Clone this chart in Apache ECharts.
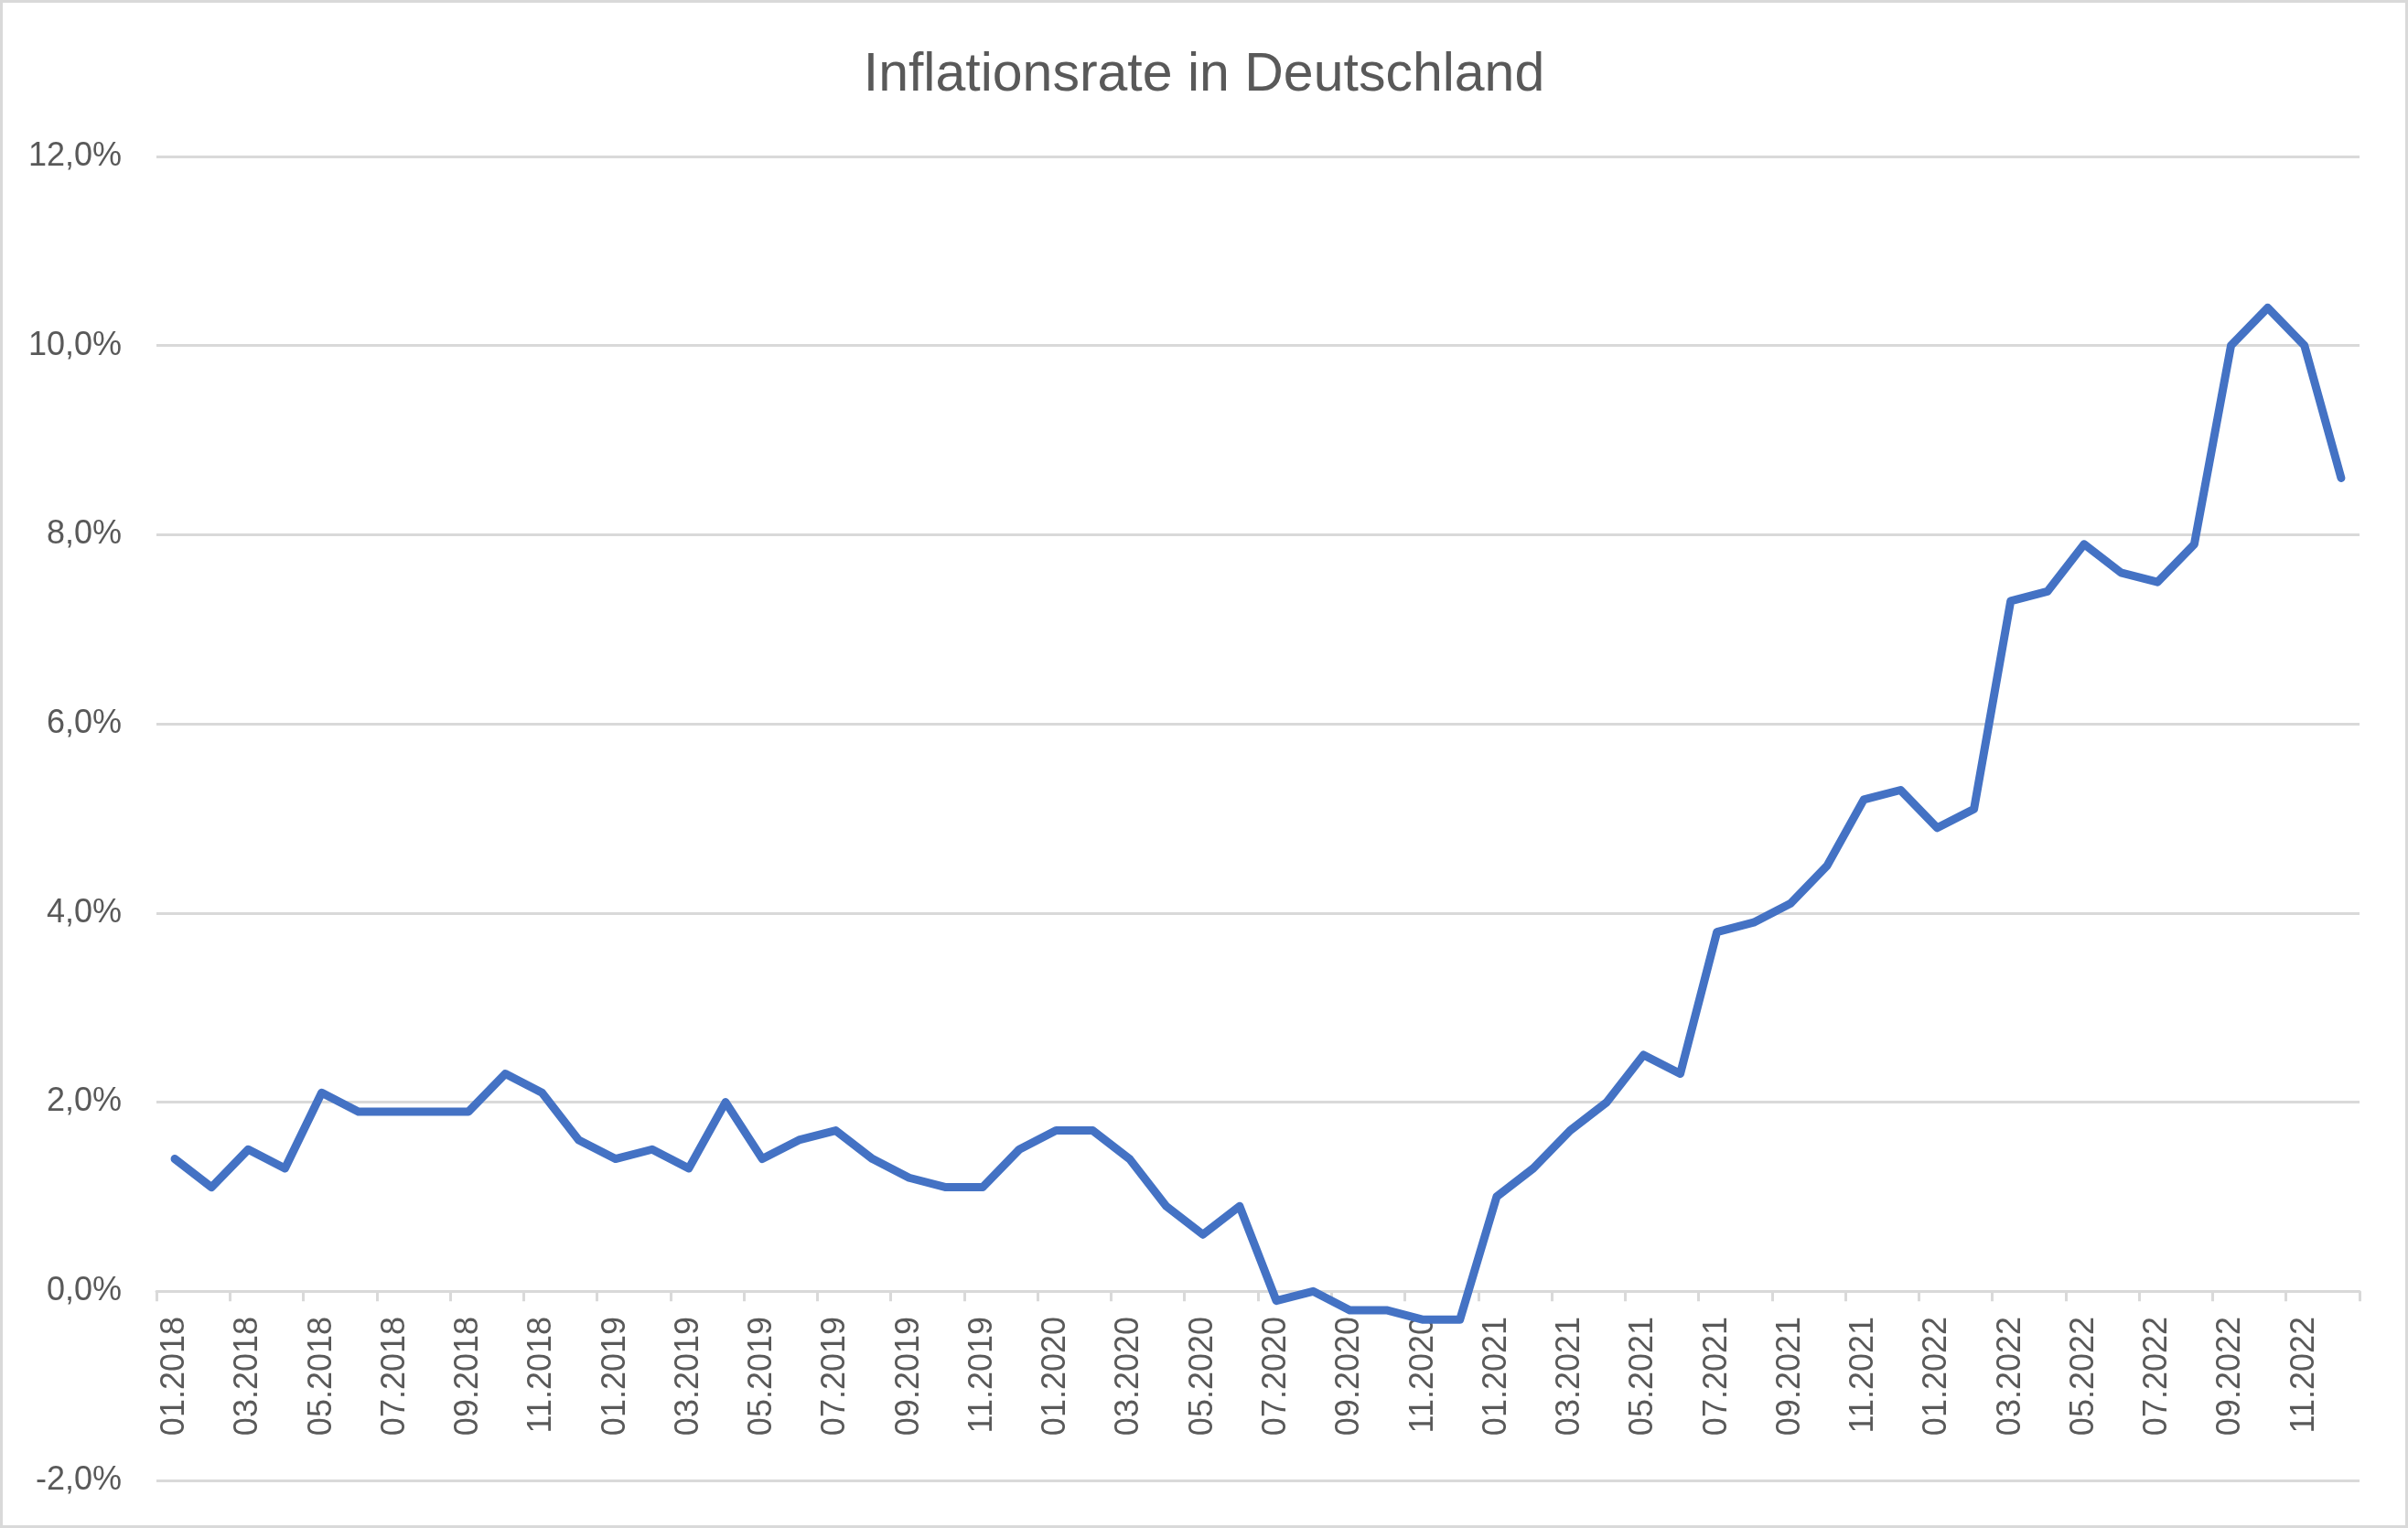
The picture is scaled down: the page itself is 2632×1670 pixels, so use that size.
<!DOCTYPE html>
<html>
<head>
<meta charset="utf-8">
<script src="https://cdn.jsdelivr.net/npm/echarts@6/dist/echarts.min.js"></script>
<style>
html,body{margin:0;padding:0;background:#fff;}
#frame{width:2632px;height:1670px;box-sizing:border-box;border:3px solid #d9d9d9;position:relative;}
#chart{position:absolute;left:-3px;top:-3px;width:2632px;height:1670px;}
</style>
</head>
<body>
<div id="frame"><div id="chart"></div></div>
<script>
const months = [
  "01.2018","02.2018","03.2018","04.2018","05.2018","06.2018","07.2018","08.2018","09.2018","10.2018","11.2018","12.2018",
  "01.2019","02.2019","03.2019","04.2019","05.2019","06.2019","07.2019","08.2019","09.2019","10.2019","11.2019","12.2019",
  "01.2020","02.2020","03.2020","04.2020","05.2020","06.2020","07.2020","08.2020","09.2020","10.2020","11.2020","12.2020",
  "01.2021","02.2021","03.2021","04.2021","05.2021","06.2021","07.2021","08.2021","09.2021","10.2021","11.2021","12.2021",
  "01.2022","02.2022","03.2022","04.2022","05.2022","06.2022","07.2022","08.2022","09.2022","10.2022","11.2022","12.2022"
];
const rate2018 = [1.4, 1.1, 1.5, 1.3, 2.1, 1.9, 1.9, 1.9, 1.9, 2.3, 2.1, 1.6];
const rate2019 = [1.4, 1.5, 1.3, 2.0, 1.4, 1.6, 1.7, 1.4, 1.2, 1.1, 1.1, 1.5];
const rate2020 = [1.7, 1.7, 1.4, 0.9, 0.6, 0.9, -0.1, 0.0, -0.2, -0.2, -0.3, -0.3];
const rate2021 = [1.0, 1.3, 1.7, 2.0, 2.5, 2.3, 3.8, 3.9, 4.1, 4.5, 5.2, 5.3];
const rate2022 = [4.9, 5.1, 7.3, 7.4, 7.9, 7.6, 7.5, 7.9, 10.0, 10.4, 10.0, 8.6];
const inflation = [].concat(rate2018, rate2019, rate2020, rate2021, rate2022);

const yMin = -2, yMax = 12, yStep = 2;
const titleText = "Inflationsrate in Deutschland";

const chart = echarts.init(document.getElementById('chart'), null, {renderer: 'canvas'});
chart.setOption({
  animation: false,
  backgroundColor: 'transparent',
  title: {
    text: titleText,
    left: 'center',
    top: 48,
    textStyle: {fontFamily: 'Liberation Sans', fontSize: 59, fontWeight: 'normal', color: '#595959'}
  },
  grid: {left: 171, right: 53, top: 171, bottom: 52, containLabel: false, outerBoundsMode: 'none'},
  xAxis: {
    type: 'category',
    data: months,
    boundaryGap: true,
    axisLine: {onZero: true, lineStyle: {color: '#d9d9d9', width: 3}},
    axisTick: {show: true, interval: 1, length: 11, lineStyle: {color: '#d9d9d9', width: 3}},
    axisLabel: {
      interval: 1, rotate: 90, margin: -179,
      fontFamily: 'Liberation Sans', fontSize: 36, color: '#595959'
    },
    splitLine: {show: false}
  },
  yAxis: {
    type: 'value',
    min: yMin, max: yMax, interval: yStep,
    axisLine: {show: false},
    axisTick: {show: false},
    axisLabel: {
      margin: 38,
      fontFamily: 'Liberation Sans', fontSize: 36, color: '#595959',
      formatter: v => v.toFixed(1).replace('.', ',') + '%'
    },
    splitLine: {lineStyle: {color: '#d9d9d9', width: 3}}
  },
  series: [{
    type: 'line',
    data: inflation,
    showSymbol: false,
    symbol: 'none',
    lineStyle: {color: '#4472C4', width: 9, cap: 'round', join: 'round'},
    itemStyle: {color: '#4472C4'}
  }]
});
</script>
</body>
</html>
